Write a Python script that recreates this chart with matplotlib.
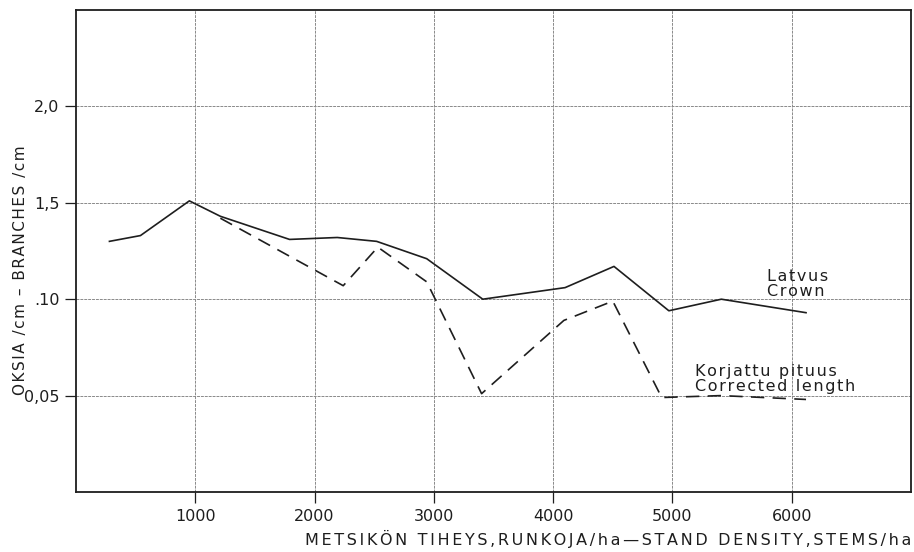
import matplotlib.pyplot as plt

# stand density (stems/ha) and branches/cm
crown_x = [280, 540, 950, 1210, 1790, 2190, 2520, 2940, 3410, 4100, 4510, 4970, 5410, 6120]
crown_y = [0.130, 0.133, 0.151, 0.143, 0.131, 0.132, 0.130, 0.121, 0.100, 0.106, 0.117, 0.094, 0.100, 0.093]

corr_x = [1210, 2240, 2530, 2940, 3400, 4090, 4500, 4910, 5410, 6120]
corr_y = [0.142, 0.107, 0.127, 0.109, 0.051, 0.089, 0.099, 0.049, 0.050, 0.048]

xticks = [1000, 2000, 3000, 4000, 5000, 6000]
yticks = [0.05, 0.10, 0.15, 0.20]
ytick_labels = ["0,05", ".10", "1,5", "2,0"]

ink = '#1e1e1e'


def spaced(s, sp="\u200a"):
    # the original lettering is widely tracked
    return sp.join(s)


fig = plt.figure(figsize=(9.14, 5.52), dpi=100)
ax = fig.add_axes([0.0832, 0.1087, 0.9135, 0.8732])

ax.plot(crown_x, crown_y, color=ink, lw=1.2)
ax.plot(corr_x, corr_y, color=ink, lw=1.2, dashes=(8, 5))

ax.set_xlim(0, 7000)
ax.set_ylim(0, 0.25)
ax.set_xticks(xticks)
ax.set_xticklabels([str(t) for t in xticks])
ax.set_yticks(yticks)
ax.set_yticklabels(ytick_labels)
ax.grid(True, color='#8a8a8a', lw=0.7, ls=(0, (3, 1)))
ax.tick_params(direction='out', length=8, width=0.9, color=ink,
               labelsize=11.5, labelcolor=ink, pad=4)
for s in ax.spines.values():
    s.set_linewidth(1.3)
    s.set_color(ink)

ax.text(5790, 0.1015, spaced("Latvus") + "\n" + spaced("Crown"), fontsize=11.5,
        color=ink, linespacing=1.0, va='baseline')
ax.text(5190, 0.0525, spaced("Korjattu pituus") + "\n" + spaced("Corrected length"),
        fontsize=11.5, color=ink, linespacing=1.0, va='baseline')

fig.text(0.022, 0.51, spaced("OKSIA /cm – BRANCHES /cm"), rotation=90, fontsize=11,
         color=ink, ha='center', va='center')
fig.text(0.997, 0.013, spaced("METSIKÖN TIHEYS,RUNKOJA/ha—STAND DENSITY,STEMS/ha", "\u2006"),
         fontsize=11.5, color=ink, ha='right', va='baseline')

fig.savefig("out.png", dpi=100)
